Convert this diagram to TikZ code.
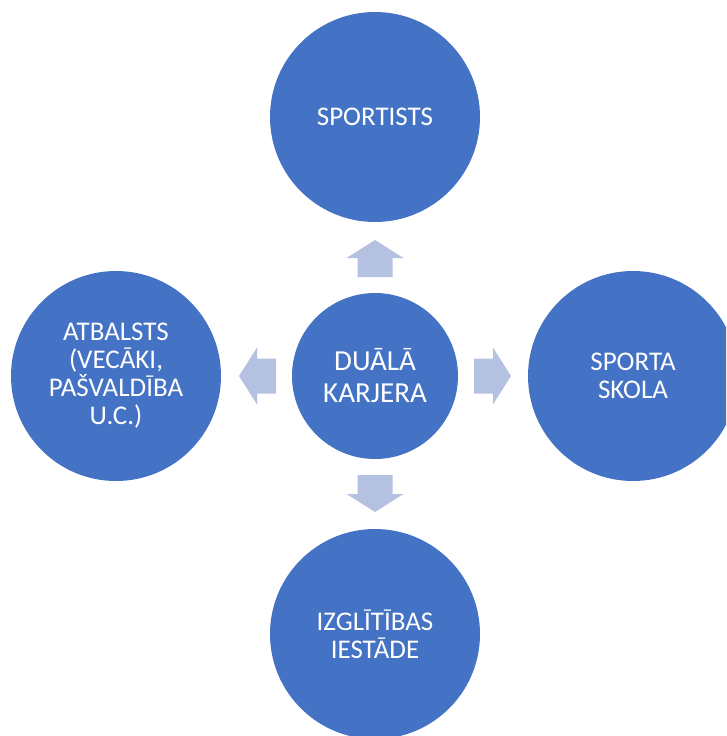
\documentclass[tikz,border=0pt]{standalone}
\usepackage{fontspec}
\setmainfont{Carlito}
\usetikzlibrary{calc}

\definecolor{circleblue}{HTML}{4472C4}
\definecolor{arrowblue}{HTML}{B4C1E1}

\tikzset{
    bigcircle/.style={circle, fill=circleblue, text=white, minimum size=210pt,
        inner sep=0pt, align=center, font=\fontsize{27}{28}\selectfont},
    hubcircle/.style={bigcircle, minimum size=166pt, font=\fontsize{29}{32}\selectfont},
    blockarrow/.style={fill=arrowblue}
}

\begin{document}
\begin{tikzpicture}[x=1pt, y=-1pt]
    \clip (0,0) rectangle (726,736);
    \useasboundingbox (0,0) rectangle (726,736);

    \coordinate (C) at (375,376);
    \coordinate (T) at (375,117);
    \coordinate (R) at (633,376);
    \coordinate (B) at (375,634);
    \coordinate (L) at (116,376);

    \node[hubcircle] (dual) at (C) {DUĀLĀ\\KARJERA};
    \node[bigcircle] (sportists) at (T) {SPORTISTS};
    \node[bigcircle] (skola) at (R) {SPORTA\\SKOLA};
    \node[bigcircle] (iestade) at (B) {IZGLĪTĪBAS\\IESTĀDE};
    \node[bigcircle] (atbalsts) at (L) {ATBALSTS\\(VECĀKI,\\PAŠVALDĪBA\\U.C.)};

    \foreach \ang in {0,90,180,270}
        \fill[blockarrow, shift={(C)}, rotate=\ang]
            (99,-17.5) -- (118,-17.5) -- (118,-28.5) -- (136,0)
            -- (118,28.5) -- (118,17.5) -- (99,17.5) -- cycle;
\end{tikzpicture}
\end{document}
